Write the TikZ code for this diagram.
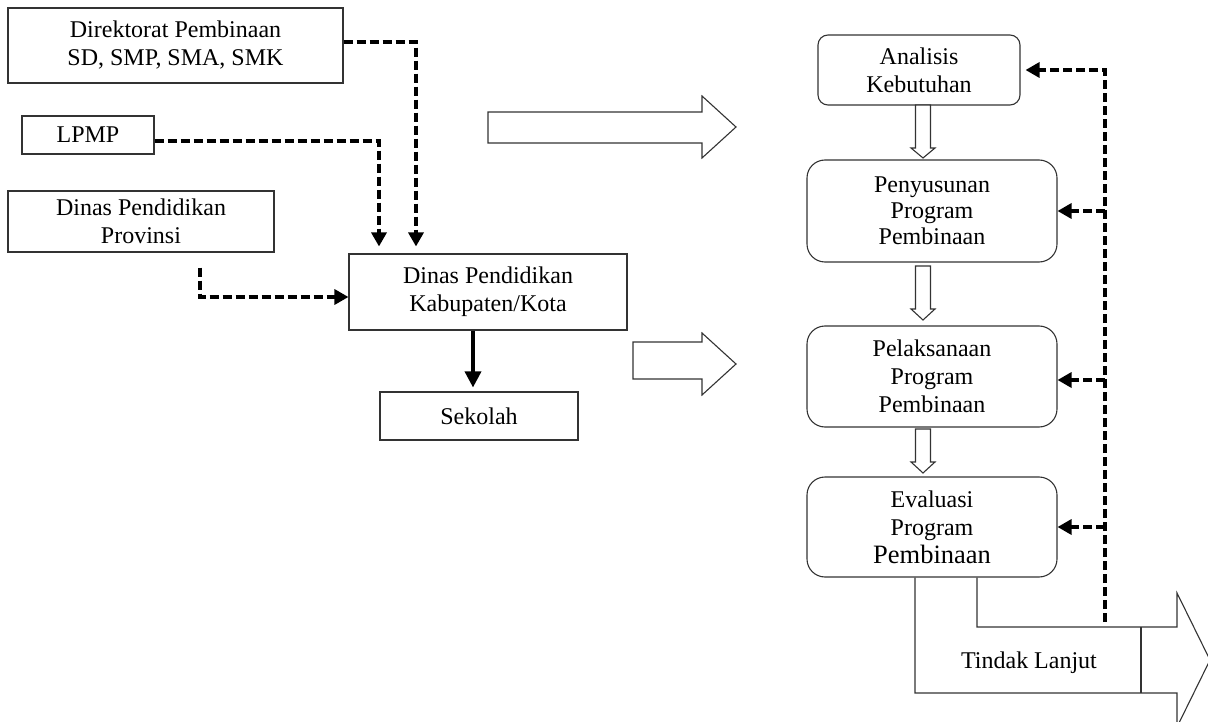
\documentclass[tikz,border=0pt]{standalone}
\usepackage{fontspec}
\setmainfont{Liberation Serif}
\usetikzlibrary{arrows.meta,calc}
\begin{document}
\begin{tikzpicture}[x=1pt,y=-1pt,
  box/.style={draw=black!80, line width=1.1pt, align=center, inner sep=0pt,
    font=\fontsize{24}{28}\selectfont},
  rbox/.style={box, rounded corners=18pt},
  darrow/.style={draw=black, line width=3.3pt, dash pattern=on 9pt off 4pt,
    -{Triangle[width=15pt,length=14pt]}},
  sarrow/.style={draw=black, line width=3.4pt, -{Triangle[width=16pt,length=16pt]}},
  blk/.style={draw=black!80, line width=1.1pt, fill=white, line join=miter},
  lbl/.style={inner sep=0pt, font=\fontsize{24}{28}\selectfont}]
\useasboundingbox (0,0) rectangle (1208,722);
\clip (0,0) rectangle (1208,722);

% left boxes
\node[box, minimum width=335pt, minimum height=75pt] (dir) at (175.5,45.5) {Direktorat Pembinaan\\SD, SMP, SMA, SMK};
\node[box, minimum width=132pt, minimum height=38pt] (lpmp) at (88,135) {LPMP};
\node[box, minimum width=266pt, minimum height=61pt] (prov) at (141,221.5) {Dinas Pendidikan\\Provinsi};
\node[box, minimum width=278pt, minimum height=76pt] (kab) at (488,292) {Dinas Pendidikan\\Kabupaten/Kota};
\node[box, minimum width=198pt, minimum height=48pt] (sek) at (479,416) {Sekolah};

% right boxes
\node[box, rounded corners=10pt, minimum width=202pt, minimum height=70pt] (an) at (919,70) {Analisis\\Kebutuhan};
\node[rbox, minimum width=250pt, minimum height=102pt, font=\fontsize{24}{26}\selectfont] (pen) at (932,211) {Penyusunan\\Program\\Pembinaan};
\node[rbox, minimum width=250pt, minimum height=101pt] (pel) at (932,376.5) {Pelaksanaan\\Program\\Pembinaan};
\node[rbox, minimum width=250pt, minimum height=100pt] (ev) at (932,527) {Evaluasi\\Program\\{\fontsize{26.5}{29}\selectfont Pembinaan}};

% dashed connectors on the left
\draw[darrow, shorten >=7pt] ([yshift=3.5pt]dir.east) -| ([xshift=-72pt]kab.north);
\draw[darrow, shorten >=7pt] ([yshift=-6pt]lpmp.east) -| ([xshift=-109pt]kab.north);
\draw[darrow, shorten <=15pt] ([xshift=59pt]prov.south) |- ([yshift=-5pt]kab.west);
\draw[sarrow, shorten >=4pt] ([xshift=-15pt]kab.south) -- ([xshift=-6pt]sek.north);

% hollow block arrows
\draw[blk] (488,112) -- (702,112) -- (702,96) -- (736,127) -- (702,158) -- (702,143) -- (488,143) -- cycle;
\draw[blk] (633,342) -- (702,342) -- (702,333) -- (736,364) -- (702,395) -- (702,379) -- (633,379) -- cycle;

\draw[blk] (915.5,105) -- (930.5,105) -- (930.5,148) -- (935,148) -- (923,158) -- (911,148) -- (915.5,148) -- cycle;
\draw[blk] (915.5,266) -- (930.5,266) -- (930.5,309) -- (935,309) -- (923,320) -- (911,309) -- (915.5,309) -- cycle;
\draw[blk] (915.5,429) -- (930.5,429) -- (930.5,462) -- (935,462) -- (923,473) -- (911,462) -- (915.5,462) -- cycle;

% Tindak Lanjut arrow
\coordinate (tx1) at (915,0);
\coordinate (tx2) at (977,0);
\draw[draw=black!80, line width=1.1pt, line join=miter]
  (ev.south -| tx1) -- (915,693) -- (1177,693) -- (1177,727) -- (1210,660)
  -- (1177,593) -- (1177,627) -- (977,627) -- (ev.south -| tx2);
\draw[draw=black!80, line width=1.1pt] (1141,627) -- (1141,693);
\node[lbl] (tl) at (1029,663) {Tindak Lanjut};

% feedback dashed
\coordinate (fb) at (1105,622);
\coordinate (pelr) at ([yshift=-3.5pt]pel.east);
\draw[darrow, shorten >=5pt] (fb) |- (an.east);
\draw[darrow] (fb |- pen.east) -- (pen.east);
\draw[darrow] (fb |- pelr) -- (pelr);
\draw[darrow] (fb |- ev.east) -- (ev.east);
\end{tikzpicture}
\end{document}
